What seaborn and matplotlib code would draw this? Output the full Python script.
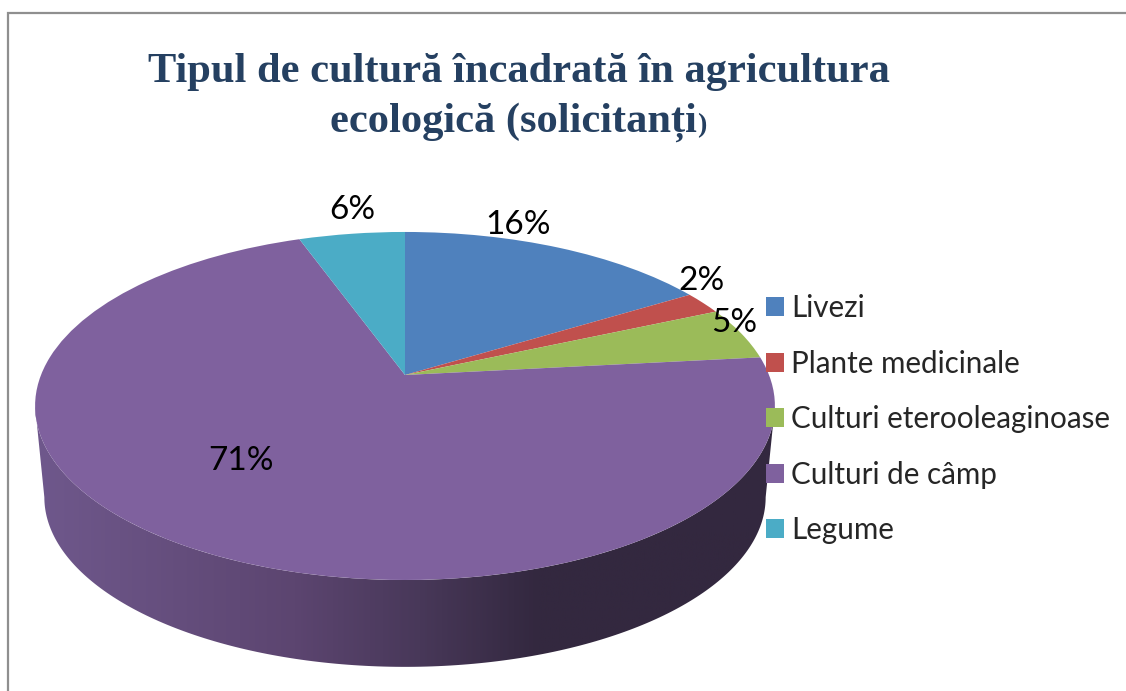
import numpy as np
import matplotlib
matplotlib.use("Agg")
import matplotlib.pyplot as plt
from matplotlib.colors import LinearSegmentedColormap
from matplotlib.patches import Polygon
from matplotlib.transforms import Transform
import seaborn as sns

categories = ["Livezi", "Plante medicinale", "Culturi eterooleaginoase", "Culturi de câmp", "Legume"]
values = [16.3, 2.1, 4.9, 71.2, 5.5]  # read from the slice edges, labels below are rounded
pct_labels = ["16%", "2%", "5%", "71%", "6%"]
hex_colors = ["#4f81bd", "#c0504d", "#9bbb59", "#7f619e", "#4bacc6"]
title_line1 = "Tipul de cultură încadrată în agricultura"
title_line2 = "ecologică (solicitanți"

sns.set_style("white")
plt.rcParams["font.family"] = ["Lato", "DejaVu Sans"]

# pie plane seen in perspective, unit circle -> pixels
CX, CY = 405, 375
TILT = 0.178
RX, RY = 364, 168.5
DEPTH_Y = 92
DEPTH_SCALE = 0.975


class Perspective(Transform):
    input_dims = 2
    output_dims = 2

    def transform_non_affine(self, values):
        u, v = values[:, 0], values[:, 1]
        w = 1 + TILT * v
        return np.column_stack([CX + RX * u / w, CY - RY * v / w])


persp = Perspective()

fig = plt.figure(figsize=(11.26, 6.91), dpi=100)
ax = fig.add_axes([0, 0, 1, 1])

wedges, _ = ax.pie(values, colors=sns.color_palette(hex_colors), startangle=90, counterclock=False,
                   wedgeprops={"linewidth": 0, "zorder": 3})
for w in wedges:
    w.set_transform(persp + ax.transData)

# side wall of the pie: front half of the rim and the same rim lower down
t0 = np.arcsin(TILT)
t = np.linspace(np.pi + t0, 2 * np.pi - t0, 200)
top_rim = persp.transform(np.column_stack([np.cos(t), np.sin(t)]))
low_rim = top_rim.copy()
low_rim[:, 0] = CX + (low_rim[:, 0] - CX) * DEPTH_SCALE
low_rim[:, 1] = CY + DEPTH_Y + (low_rim[:, 1] - CY) * DEPTH_SCALE
wall = Polygon(np.vstack([top_rim, low_rim[::-1]]), closed=True, transform=ax.transData, facecolor="none", edgecolor="none")
ax.add_patch(wall)

shade = LinearSegmentedColormap.from_list("wall", [(0.0, "#6f588c"), (0.35, "#5c4570"), (0.52, "#483859"), (0.68, "#33283f"), (1.0, "#33283f")])
img = ax.imshow(np.linspace(0, 1, 400).reshape(1, -1), cmap=shade, extent=(35, 775, 670, 400), aspect="auto", zorder=2)
img.set_clip_path(wall)

ax.set_aspect("auto")
ax.set_xlim(0, 1126)
ax.set_ylim(691, 0)
ax.axis("off")

# chart frame, cut by the image on the right and below
ax.plot([8, 8, 1126], [691, 12.5, 12.5], color="#8f8f8f", lw=1.6, zorder=1, solid_joinstyle="miter")

# percent labels
label_pos = [(518, 225), (702, 281), (734, 323), (241, 461), (352, 210)]
for lab, (x, y) in zip(pct_labels, label_pos):
    ax.text(x, y, lab, fontsize=24, color="black", ha="center", va="center", zorder=6)

ax.legend(wedges, categories, loc="upper left", bbox_to_anchor=(766 / 1126, 1 - 294 / 691), frameon=False,
          fontsize=21.3, handlelength=0.61, handleheight=0.61, handletextpad=0.25, labelspacing=0.93,
          borderpad=0, borderaxespad=0)

title_font = {"family": ["Liberation Serif", "DejaVu Serif"], "weight": "bold", "color": "#254061"}
ax.text(519, 72, title_line1, fontsize=30.6, ha="center", va="center", zorder=6, **title_font)
ax.text(697, 122, title_line2, fontsize=30.6, ha="right", va="center", zorder=6, **title_font)
ax.text(697, 126, ")", fontsize=20, ha="left", va="center", zorder=6, **title_font)

fig.savefig("out.png", dpi=100)
